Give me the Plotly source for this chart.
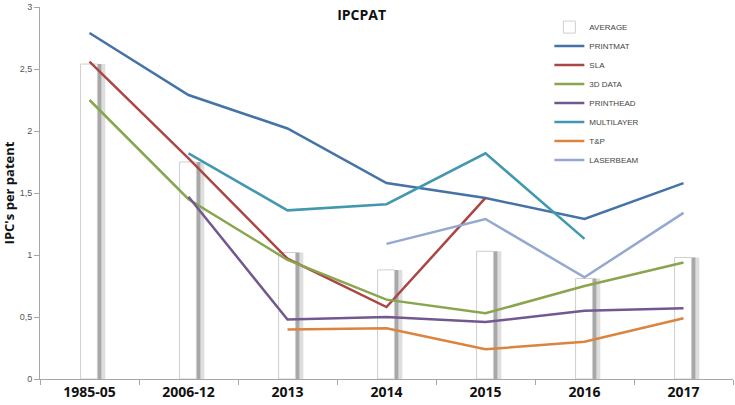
import plotly.graph_objects as go

categories = ["1985-05", "2006-12", "2013", "2014", "2015", "2016", "2017"]
average = [2.54, 1.75, 1.02, 0.88, 1.03, 0.81, 0.98]
printmat = [2.79, 2.29, 2.02, 1.58, 1.46, 1.29, 1.58]
sla = [2.56, 1.78, 0.97, 0.58, 1.46, None, None]
data3d = [2.25, 1.45, 0.96, 0.64, 0.53, 0.75, 0.94]
printhead = [None, 1.47, 0.48, 0.50, 0.46, 0.55, 0.57]
multilayer = [None, 1.82, 1.36, 1.41, 1.82, 1.13, None]
tp = [None, None, 0.40, 0.41, 0.24, 0.30, 0.49]
laserbeam = [None, None, None, 1.09, 1.29, 0.82, 1.34]
ytick_vals = [0, 0.5, 1, 1.5, 2, 2.5, 3]
ytick_text = ["0", "0,5", "1", "1,5", "2", "2,5", "3"]

series = [
    ("PRINTMAT", printmat, "#4572A7"),
    ("SLA", sla, "#AA4643"),
    ("3D DATA", data3d, "#89A54E"),
    ("PRINTHEAD", printhead, "#71588F"),
    ("MULTILAYER", multilayer, "#4198AF"),
    ("T&P", tp, "#DB843D"),
    ("LASERBEAM", laserbeam, "#93A9CF"),
]

fig = go.Figure()
# soft shadow of the average bars (outer light band, inner darker band)
fig.add_trace(go.Bar(x=categories, y=average, width=0.22, offset=-0.06,
                     marker=dict(color="#dedede", line=dict(width=0)),
                     showlegend=False, hoverinfo="skip"))
fig.add_trace(go.Bar(x=categories, y=average, width=0.18, offset=-0.06,
                     marker=dict(color="#a8a8a8", line=dict(width=0)),
                     showlegend=False, hoverinfo="skip"))
fig.add_trace(go.Bar(x=categories, y=average, name="AVERAGE", width=0.17, offset=-0.09,
                     marker=dict(color="white", line=dict(color="#cfcfcf", width=1))))
for name, vals, col in series:
    fig.add_trace(go.Scatter(x=categories, y=vals, name=name, mode="lines",
                             line=dict(color=col, width=2.5)))

fig.update_layout(
    width=735, height=405,
    margin=dict(l=40, r=2, t=4, b=26),
    barmode="overlay",
    separators=",.",
    plot_bgcolor="white", paper_bgcolor="white",
    font=dict(family="Open Sans", color="#333"),
    title=dict(text="<b>IPCPAT</b>", x=0.492, xanchor="center", y=0.962, yanchor="middle",
               font=dict(size=14, color="#111")),
    legend=dict(x=0.735, y=0.985, xanchor="left", yanchor="top",
                font=dict(size=8, color="#444", family="Liberation Sans"),
                bgcolor="rgba(0,0,0,0)", itemwidth=30, tracegroupgap=0),
    xaxis=dict(type="category", showline=True, linecolor="#a6a6a6", linewidth=1,
               ticks="outside", tickson="boundaries", ticklen=5, tickcolor="#a6a6a6",
               tickfont=dict(size=14, color="#111", family="Open Sans", weight="bold"),
               showgrid=False, range=[-0.5, 6.5]),
    yaxis=dict(range=[0, 3], tickmode="array", tickvals=ytick_vals, ticktext=ytick_text,
               showline=True, linecolor="#a6a6a6", linewidth=1,
               ticks="outside", ticklen=5, tickcolor="#a6a6a6", showgrid=False,
               zeroline=False, ticklabeloverflow="allow",
               tickfont=dict(size=9, color="#555", family="Liberation Sans"),
               title=dict(text="<b>IPC's per patent</b>", standoff=6,
                          font=dict(size=13, color="#111", family="Open Sans"))),
)

fig.write_html("out.html", config={"displayModeBar": False},
               post_script="document.body.style.margin='0';document.body.style.overflow='hidden';")
